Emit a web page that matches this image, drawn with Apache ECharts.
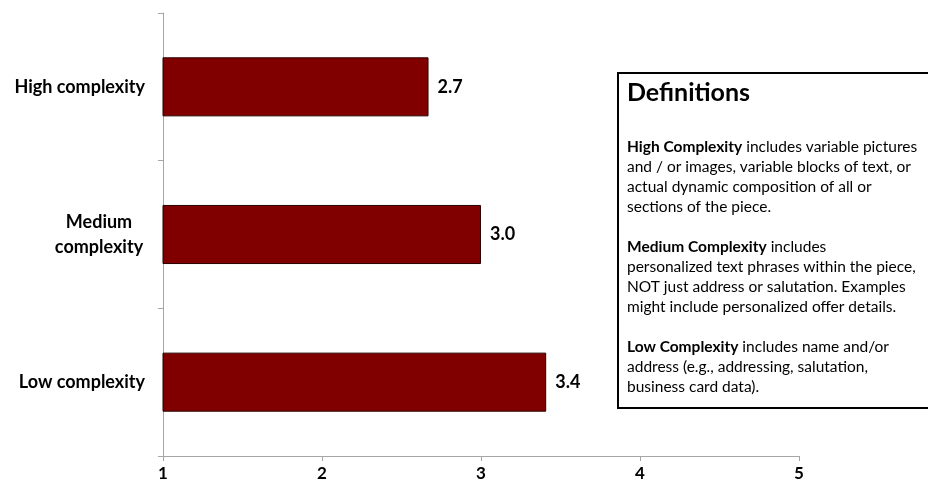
<!DOCTYPE html>
<html>
<head>
<meta charset="utf-8">
<script src="https://cdn.jsdelivr.net/npm/echarts@6/dist/echarts.min.js"></script>
<style>
  html, body { margin: 0; padding: 0; background: #fff; }
  #chart { width: 928px; height: 489px; }
</style>
</head>
<body>
<div id="chart"></div>
<script>
// data
const categories = ['High complexity', 'Medium complexity', 'Low complexity'];
const scores = [2.67, 3.0, 3.41];
const xTicks = [1, 2, 3, 4, 5];

const FONT = 'Lato';

// definitions text, one entry per line, [bold part, normal part]
const defLines = [
  ['High Complexity', ' includes variable pictures'],
  ['', 'and / or images, variable blocks of text, or'],
  ['', 'actual dynamic composition of all or'],
  ['', 'sections of the piece.'],
  ['', ''],
  ['Medium Complexity', ' includes'],
  ['', 'personalized text phrases within the piece,'],
  ['', 'NOT just address or salutation. Examples'],
  ['', 'might include personalized offer details.'],
  ['', ''],
  ['Low Complexity', ' includes name and/or'],
  ['', 'address (e.g., addressing, salutation,'],
  ['', 'business card data).']
];

const defText = defLines.map(([b, n]) =>
  (b ? '{b|' + b + '}' : '') + (n ? '{n|' + n + '}' : '{n| }')
).join('\n');

const chart = echarts.init(document.getElementById('chart'));

const option = {
  animation: false,
  backgroundColor: '#fff',
  grid: { left: 163, right: 129, top: 13, bottom: 33 },
  xAxis: {
    type: 'value',
    min: xTicks[0],
    max: xTicks[xTicks.length - 1],
    interval: 1,
    splitLine: { show: false },
    axisLine: { show: true, lineStyle: { color: '#a6a6a6', width: 1 } },
    axisTick: { show: true, length: 5, lineStyle: { color: '#a6a6a6' } },
    axisLabel: {
      color: '#000', fontFamily: FONT, fontWeight: 'bold', fontSize: 17, margin: 9
    }
  },
  yAxis: {
    type: 'category',
    data: categories,
    inverse: true,
    axisLine: { show: true, lineStyle: { color: '#a6a6a6', width: 1 } },
    axisTick: { show: true, length: 5, inside: false, lineStyle: { color: '#a6a6a6' } },
    axisLabel: {
      color: '#000', fontFamily: FONT, fontWeight: 'bold', fontSize: 18, margin: 18,
      lineHeight: 25,
      formatter: function (v) {
        if (v === 'Medium complexity') return '{m|Medium\ncomplexity}';
        return v;
      },
      rich: {
        m: {
          width: 92, align: 'center', color: '#000', fontFamily: FONT,
          fontWeight: 'bold', fontSize: 18, lineHeight: 25
        }
      }
    }
  },
  series: [{
    type: 'bar',
    data: scores,
    barCategoryGap: '60%',
    itemStyle: { color: '#800000', borderColor: '#2a0000', borderWidth: 1 },
    label: {
      show: true,
      position: 'right',
      distance: 9,
      color: '#000',
      fontFamily: FONT,
      fontWeight: 'bold',
      fontSize: 18,
      formatter: p => p.value.toFixed(1)
    }
  }],
  graphic: [
    {
      // box runs past the right edge of the picture
      type: 'rect',
      left: 617, top: 72,
      shape: { width: 330, height: 335 },
      style: { fill: '#fff', stroke: '#000', lineWidth: 2 }
    },
    {
      type: 'text',
      left: 627, top: 80,
      style: {
        text: 'Definitions',
        fontFamily: FONT, fontWeight: 'bold', fontSize: 25, fill: '#000'
      }
    },
    {
      type: 'text',
      left: 627, top: 137,
      style: {
        text: defText,
        fontFamily: FONT,
        fontSize: 15.5,
        lineHeight: 20,
        fill: '#000',
        rich: {
          b: { fontFamily: FONT, fontWeight: 'bold', fontSize: 15.5, lineHeight: 20, fill: '#000' },
          n: { fontFamily: FONT, fontSize: 15.5, lineHeight: 20, fill: '#000' }
        }
      }
    }
  ]
};

chart.setOption(option);
</script>
</body>
</html>
